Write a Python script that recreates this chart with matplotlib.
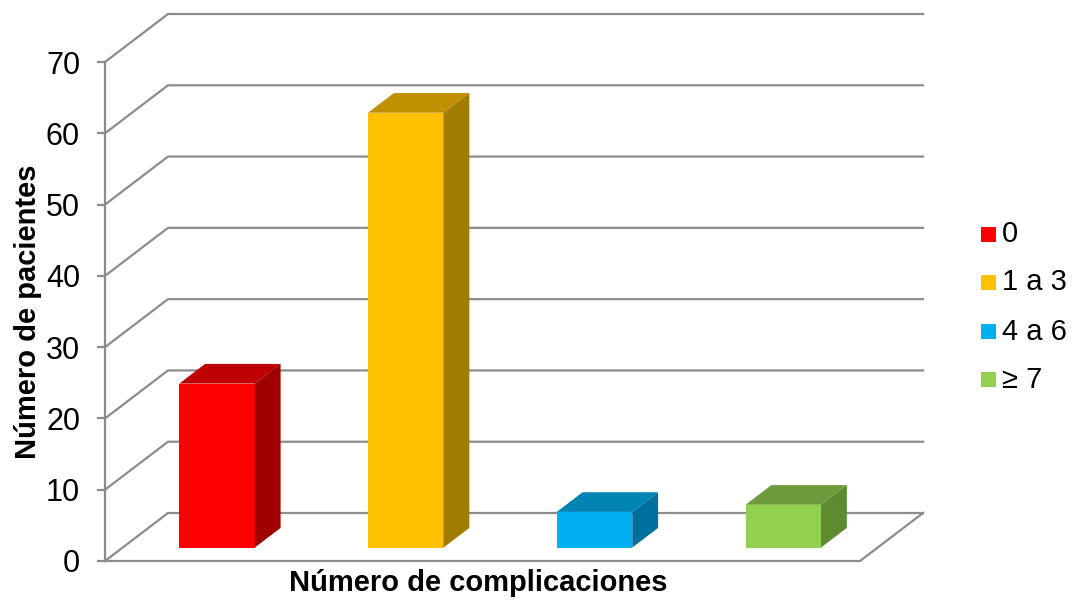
import matplotlib
matplotlib.use("Agg")
import matplotlib.pyplot as plt
from matplotlib.patches import Polygon, Rectangle

plt.rcParams['font.family'] = ['Liberation Sans', 'DejaVu Sans']

categories = ["0", "1 a 3", "4 a 6", "≥ 7"]
values = [23, 61, 5, 6]
front_colors = ["#FF0000", "#FFC000", "#00B0F0", "#92D050"]
top_colors = ["#BF0000", "#C09000", "#0084B4", "#6E9C3C"]
side_colors = ["#A00000", "#A07C00", "#00709C", "#5E8A32"]
yticks = [0, 10, 20, 30, 40, 50, 60, 70]

W, H = 1072, 601
fig = plt.figure(figsize=(W / 100, H / 100), dpi=100)
ax = fig.add_axes([105 / W, (H - 561) / H, (860 - 105) / W, (561 - 62) / H])
ax.set_xlim(-0.5, 3.5)
ax.set_ylim(0, 70)

DX = 63 / 188.75   # depth offset in x data units
DY = 48 / 7.13     # depth offset in y data units
grid_c = "#8C8C8C"
lw = 1.6

# back wall gridlines with diagonals on the side wall
for v in yticks:
    ax.plot([-0.5, -0.5 + DX, 3.5 + DX], [v, v + DY, v + DY],
            color=grid_c, lw=lw, clip_on=False, zorder=1, solid_joinstyle='miter')
# floor
ax.plot([-0.5, 3.5, 3.5 + DX], [0, 0, DY], color=grid_c, lw=lw,
        clip_on=False, zorder=1)

# bars
hw = 0.2
d0, d1 = 0.28, 0.69
for i, v in enumerate(values):
    x0, x1 = i - hw + d0 * DX, i + hw + d0 * DX
    y0, y1 = d0 * DY, v + d0 * DY
    ox, oy = (d1 - d0) * DX, (d1 - d0) * DY
    front = Rectangle((x0, y0), x1 - x0, y1 - y0, facecolor=front_colors[i],
                      edgecolor='none', clip_on=False, zorder=3)
    top = Polygon([(x0, y1), (x1, y1), (x1 + ox, y1 + oy), (x0 + ox, y1 + oy)],
                  closed=True, facecolor=top_colors[i], edgecolor='none',
                  clip_on=False, zorder=3)
    side = Polygon([(x1, y0), (x1 + ox, y0 + oy), (x1 + ox, y1 + oy), (x1, y1)],
                   closed=True, facecolor=side_colors[i], edgecolor='none',
                   clip_on=False, zorder=3)
    for p in (front, top, side):
        ax.add_patch(p)

for s in ("top", "right", "bottom"):
    ax.spines[s].set_visible(False)
ax.spines["left"].set_color(grid_c)
ax.spines["left"].set_linewidth(lw)
ax.set_xticks([])
ax.set_yticks(yticks)
ax.tick_params(axis='y', direction='out', length=6, width=lw, color=grid_c,
               labelsize=22, pad=12, labelcolor='black')
ax.patch.set_visible(False)

fig.text(478 / W, (H - 583) / H, "Número de complicaciones", ha='center',
         va='center', fontsize=21, fontweight='bold')
fig.text(28 / W, (H - 312) / H, "Número de pacientes", ha='center',
         va='center', rotation=90, fontsize=21, fontweight='bold')

# legend
leg_y = [234.5, 282.5, 331.5, 379.5]
for lab, c, yy in zip(categories, front_colors, leg_y):
    fig.patches.append(Rectangle((981 / W, (H - yy - 7.5) / H), 15 / W, 15 / H,
                                 facecolor=c, edgecolor='none',
                                 transform=fig.transFigure, figure=fig))
    fig.text(1002 / W, (H - yy) / H, lab, ha='left', va='center', fontsize=21)

fig.savefig("out.png", dpi=100, facecolor='white')
